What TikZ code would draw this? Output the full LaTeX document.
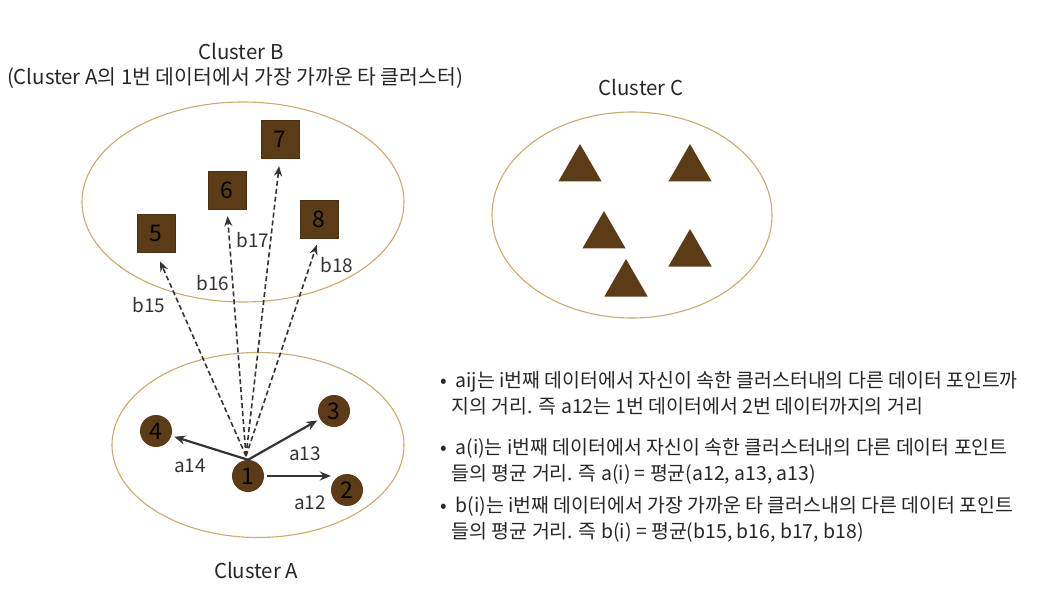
\documentclass[tikz,border=0pt]{standalone}
\usepackage{fontspec}
\setmainfont{Noto Sans CJK KR}
\usetikzlibrary{shapes.geometric,arrows.meta}
\definecolor{rim}{HTML}{C9AB6A}
\definecolor{brn}{HTML}{5C3C16}
\definecolor{arr}{HTML}{333333}
\tikzset{
  clus/.style={draw=rim,line width=1.1bp,ellipse},
  sq/.style={fill=brn,draw=brn!80!black,minimum size=38bp,inner sep=0pt,font=\fontsize{23}{23}\selectfont,text=black},
  pt/.style={circle,fill=brn,minimum size=32bp,inner sep=0pt,font=\fontsize{23}{23}\selectfont,text=black},
  tri/.style={regular polygon,regular polygon sides=3,fill=brn,minimum size=50bp,inner sep=0pt},
  title/.style={font=\fontsize{20.5}{24}\selectfont,text=black!85},
  lbl/.style={font=\fontsize{19}{19}\selectfont,text=black!80},
  solidarr/.style={draw=arr,line width=2.2bp,-{Stealth[length=11bp,width=9bp]}},
  dasharr/.style={draw=arr,line width=1.6bp,dash pattern=on 5bp off 3bp,-{Stealth[length=10bp,width=8bp]}},
  bul/.style={font=\fontsize{19.5}{27}\selectfont,text=black!85,align=left,anchor=north west,inner sep=0pt}
}
\begin{document}
\begin{tikzpicture}[x=1bp,y=-1bp]
\useasboundingbox (0,0) rectangle (1047,595);
% titles
\node[title] (tB) at (241,52) {Cluster B};
\node[title] (tB2) at (235,78) {(Cluster A의 1번 데이터에서 가장 가까운 타 클러스터)};
\node[title] (tC) at (641,88) {Cluster C};
\node[title] (tA) at (256,571) {Cluster A};
% ellipses
\node[clus,minimum width=322bp,minimum height=200bp] (eB) at (243,202) {};
\node[clus,minimum width=280bp,minimum height=206bp] (eC) at (632,215) {};
\node[clus,minimum width=292bp,minimum height=185bp] (eA) at (258,445) {};
% squares
\node[sq] (s5) at (156,233) {5};
\node[sq] (s6) at (227,190) {6};
\node[sq] (s7) at (280,139) {7};
\node[sq] (s8) at (319,219) {8};
% triangles
\node[tri] (t1) at (580,169) {};
\node[tri] (t2) at (690,169) {};
\node[tri] (t3) at (604,236) {};
\node[tri] (t4) at (690,254) {};
\node[tri] (t5) at (626,284) {};
% circles
\node[pt] (c1) at (248,476) {1};
\node[pt] (c2) at (347,490) {2};
\node[pt] (c3) at (334,411) {3};
\node[pt] (c4) at (156,431) {4};
\coordinate (o) at (246,456);
% dashed arrows
\draw[dasharr,shorten >=10bp] (o) -- (s5.south);
\draw[dasharr,shorten >=7bp] (o) -- (s6.south);
\draw[dasharr,shorten >=8bp] (o) -- (s7.south);
\draw[dasharr,shorten >=7bp] (o) -- (s8.south);
% solid arrows
\draw[solidarr,shorten >=3bp] (c1.north) -- (c4);
\draw[solidarr,shorten >=3bp] (c1.north) -- (c3);
\draw[solidarr,shorten <=3bp] (c1.east) -- (c1.east -| c2.west);
% labels
\node[lbl] (b15) at (149,305) {b15};
\node[lbl] (b16) at (213,283) {b16};
\node[lbl] (b17) at (253,240) {b17};
\node[lbl] (b18) at (337,265) {b18};
\node[lbl] (a14) at (190,466) {a14};
\node[lbl] (a13) at (305,454) {a13};
\node[lbl] (a12) at (310,503) {a12};
% bullet text
\node[bul] (p1) at (440,371) {•\hspace{0.45em}aij는 i번째 데이터에서 자신이 속한 클러스터내의 다른 데이터 포인트까\\[-1bp]\hspace{0.6em}지의 거리. 즉 a12는 1번 데이터에서 2번 데이터까지의 거리};
\node[bul] (p2) at (440,438) {•\hspace{0.45em}a(i)는 i번째 데이터에서 자신이 속한 클러스터내의 다른 데이터 포인트\\[-1bp]\hspace{0.6em}들의 평균 거리. 즉 a(i) = 평균(a12, a13, a13)};
\node[bul] (p3) at (440,496) {•\hspace{0.45em}b(i)는 i번째 데이터에서 가장 가까운 타 클러스내의 다른 데이터 포인트\\[-1bp]\hspace{0.6em}들의 평균 거리. 즉 b(i) = 평균(b15, b16, b17, b18)};
\end{tikzpicture}
\end{document}
